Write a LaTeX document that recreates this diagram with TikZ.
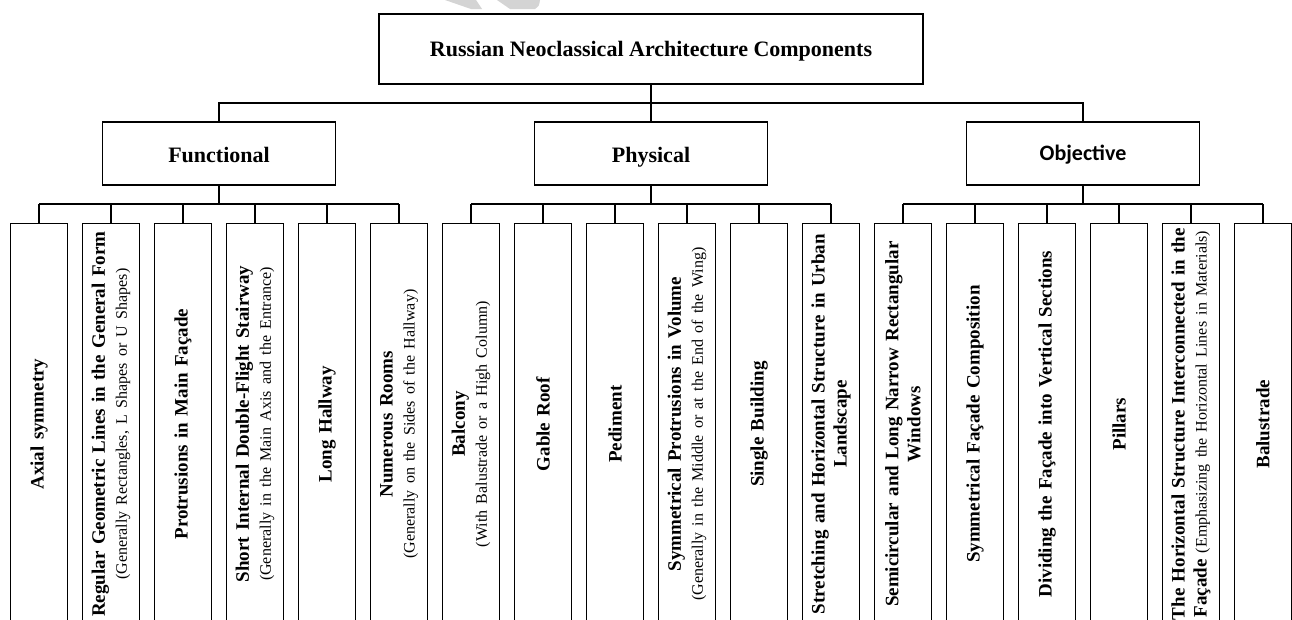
\documentclass[tikz,border=0pt]{standalone}
\usepackage{fontspec}
\setmainfont{Liberation Serif}
\newfontfamily\objfont{Carlito}
\newcommand{\subnote}[1]{{\fontsize{16}{18}\selectfont\mdseries #1}}
\tikzset{
    box/.style={draw, line width=1.3pt, fill=white, align=center, inner sep=0pt},
    rootbox/.style={box, minimum width=544pt, minimum height=70pt, text height=14pt, text depth=0pt, font=\fontsize{22}{26}\selectfont\bfseries},
    catbox/.style={box, minimum width=233pt, minimum height=63pt, text height=17pt, text depth=0pt, font=\fontsize{22}{26}\selectfont\bfseries},
    leafbox/.style={draw, line width=1.3pt, minimum width=57pt, minimum height=402pt, anchor=north, inner sep=0pt},
    leaftext/.style={rotate=90, align=center, text width=400pt, inner sep=0pt, font=\fontsize{19}{22}\selectfont\bfseries},
    conn/.style={line width=1.3pt}
}
\begin{document}
\begin{tikzpicture}[x=1pt, y=-1pt]
    \useasboundingbox (0,0) rectangle (1292,619);
    \clip (0,0) rectangle (1292,619);
    \fill[white] (0,0) rectangle (1292,619);
    % faint watermark at the top edge
    \fill[black!17] (445,0) -- (476,0) -- (482,9) -- (471,9) -- cycle;
    \fill[black!17] (497,0) -- (540,0) .. controls (539,6) .. (535,9) -- (510,9) -- cycle;

    \node[rootbox] (root) at (651,49) {Russian Neoclassical Architecture Components};

    \node[catbox] (fun) at (219,153.5) {Functional};
    \node[catbox] (phy) at (651,153.5) {Physical};
    \node[catbox, text height=13pt] (obj) at (1083,153.5) {\objfont Objective};

    \coordinate (bus) at (651,103);
    \coordinate (bus0) at (219,204); \coordinate (bus1) at (651,204); \coordinate (bus2) at (1083,204);

    \draw[conn] (root) -- (phy);
    \draw[conn] (fun.north) |- (bus) -| (obj.north);
    \draw[conn] (fun) -- (bus0); \draw[conn] (phy) -- (bus1); \draw[conn] (obj) -- (bus2);

    \foreach \txt [count=\i] in {
        {Axial symmetry},
        {Regular Geometric Lines in the General Form\\\subnote{(Generally Rectangles, L Shapes or U Shapes)}},
        {Protrusions in Main Façade},
        {Short Internal Double-Flight Stairway\\\subnote{(Generally in the Main Axis and the Entrance)}},
        {Long Hallway},
        {Numerous Rooms\\\subnote{(Generally on the Sides of the Hallway)}},
        {Balcony\\\subnote{(With Balustrade or a High Column)}},
        {Gable Roof},
        {Pediment},
        {Symmetrical Protrusions in Volume\\\subnote{(Generally in the Middle or at the End of the Wing)}},
        {Single Building},
        {Stretching and Horizontal Structure in Urban\\Landscape},
        {Semicircular and Long Narrow Rectangular\\Windows},
        {Symmetrical Façade Composition},
        {Dividing the Façade into Vertical Sections},
        {Pillars},
        {The Horizontal Structure Interconnected in the\\Façade \subnote{(Emphasizing the Horizontal Lines in Materials)}},
        {Balustrade}}
    {
        \node[leafbox] (l\i) at ({39+72*(\i-1)},222.5) {};
        \node[leaftext] (t\i) at (l\i) {\txt};
        \pgfmathtruncatemacro\g{(\i-1)/6}
        \draw[conn] (l\i.north) -- (l\i.north |- bus\g);
    }
    \draw[conn] (l1.north |- bus0) -- (l6.north |- bus0);
    \draw[conn] (l7.north |- bus1) -- (l12.north |- bus1);
    \draw[conn] (l13.north |- bus2) -- (l18.north |- bus2);
\end{tikzpicture}
\end{document}
